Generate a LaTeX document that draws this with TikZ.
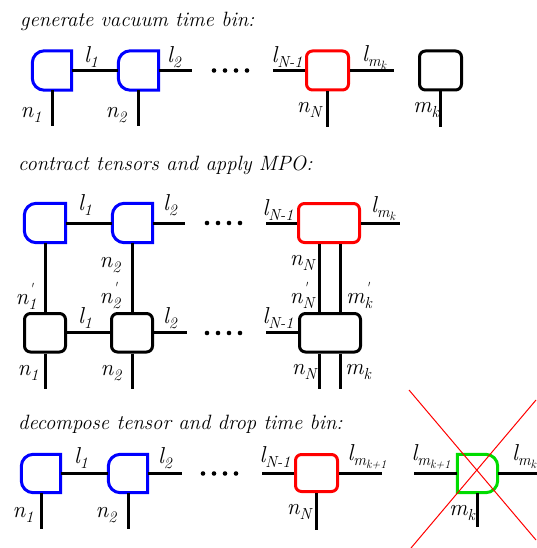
\documentclass[tikz,border=0pt]{standalone}
\usepackage{fontspec}
\usetikzlibrary{fit}
\definecolor{tblue}{RGB}{0,0,255}
\definecolor{tred}{RGB}{255,0,0}
\definecolor{tgreen}{RGB}{0,220,0}
\tikzset{
 wire/.style={line width=3pt},
 tbord/.style={line width=3pt},
 lab/.style={inner sep=0pt},
 ttl/.style={inner sep=0pt, anchor=base west, font=\fontsize{20.7}{24}\selectfont\itshape},
 box/.style={inner sep=0pt, draw, tbord, rounded corners=6pt},
 dnode/.style={inner sep=0pt},
 crossline/.style={tred, line width=1pt},
}
\newcommand\labfont{\fontsize{23}{25}\selectfont\itshape}
\newcommand\subsz{\fontsize{16}{16}\selectfont}
\newcommand\subsubsz{\fontsize{12}{12}\selectfont}
\newcommand\lsub[2]{{\labfont #1\raisebox{-5pt}{\subsz #2}}}
\newcommand\lsubsub[3]{{\labfont #1\raisebox{-5pt}{\subsz #2\raisebox{-3pt}{\subsubsz #3}}}}
\newcommand\lpr[2]{{\labfont #1\rlap{\raisebox{10pt}{\subsz\textquotesingle}}\raisebox{-5pt}{\subsz #2}}}
\newcommand\DLeft[2]{%
 \draw[tbord,#2] ([xshift=12pt]#1.north west) .. controls ([xshift=5.4pt]#1.north west) and ([yshift=-5.4pt]#1.north west) .. ([yshift=-12pt]#1.north west)
 -- ([yshift=12pt]#1.south west) .. controls ([yshift=5.4pt]#1.south west) and ([xshift=5.4pt]#1.south west) .. ([xshift=12pt]#1.south west)
 -- (#1.south east) -- (#1.north east) -- cycle;}
\newcommand\DRight[2]{%
 \draw[tbord,#2] ([xshift=-12pt]#1.north east) .. controls ([xshift=-5.4pt]#1.north east) and ([yshift=-5.4pt]#1.north east) .. ([yshift=-12pt]#1.north east)
 -- ([yshift=12pt]#1.south east) .. controls ([yshift=5.4pt]#1.south east) and ([xshift=-5.4pt]#1.south east) .. ([xshift=-12pt]#1.south east)
 -- (#1.south west) -- (#1.north west) -- cycle;}
\begin{document}
\begin{tikzpicture}[x=1pt,y=-1pt]
\useasboundingbox (0,0) rectangle (536,548);
% ---------- titles
\node[ttl] (t1) at (20,27) {generate vacuum time bin:};
\node[ttl] (t2) at (18,171) {contract tensors and apply MPO:};
\node[ttl] (t3) at (18,429) {decompose tensor and drop time bin:};
% ---------- row 1
\node[dnode,fit={(32.5,51)(71.5,90)}] (a1) {};
\node[dnode,fit={(118.5,51)(158.5,90)}] (a2) {};
\node[box,draw=tred,fit={(306.5,51)(348.5,90)}] (a3) {};
\node[box,fit={(419.5,51)(461.5,90)}] (a4) {};
\DLeft{a1}{tblue}
\DLeft{a2}{tblue}
\draw[wire] (a1.east) -- (a2.west);
\draw[wire] (a2.east) -- ++(33.5,0);
\draw[wire] (a3.west) -- ++(-32.5,0);
\draw[wire] (a3.east) -- ++(43.5,0);
\foreach \n in {a1,a2,a3,a4} \draw[wire] (\n.south) -- ++(0,36);
\foreach \x in {214,225,236,247} \fill (\x,70.5) circle (2.3pt);
\node[lab] (la1) at (91,57) {\lsub{l}{1}};
\node[lab] (la2) at (174,57) {\lsub{l}{2}};
\node[lab] (la3) at (287,57) {\lsub{l}{N-1}};
\node[lab] (la4) at (374,58) {\lsubsub{l}{m}{k}};
\node[lab] (na1) at (31,115) {\lsub{n}{1}};
\node[lab] (na2) at (116,115) {\lsub{n}{2}};
\node[lab] (na3) at (309,110) {\lsub{n}{N}};
\node[lab] (na4) at (426,110) {\lsub{m}{k}};
% ---------- row 2
\node[dnode,fit={(24.5,203.5)(65.5,242.5)}] (b1) {};
\node[dnode,fit={(112.5,203.5)(152.5,242.5)}] (b2) {};
\node[box,draw=tred,fit={(298.5,203.5)(359.5,242.5)}] (b3) {};
\node[box,fit={(24.5,313.5)(65.5,352)}] (c1) {};
\node[box,fit={(111.5,313.5)(152.5,352)}] (c2) {};
\node[box,fit={(299.5,313.5)(360.5,352)}] (c3) {};
\DLeft{b1}{tblue}
\DLeft{b2}{tblue}
\draw[wire] (b1.east) -- (b2.west);
\draw[wire] (b2.east) -- ++(32.5,0);
\draw[wire] (b3.west) -- ++(-31.5,0);
\draw[wire] (b3.east) -- ++(38.5,0);
\draw[wire] (c1.east) -- (c2.west);
\draw[wire] (c2.east) -- ++(32.5,0);
\draw[wire] (c3.west) -- ++(-32.5,0);
\draw[wire] (b1.south) -- (c1.north);
\draw[wire] (b2.south) -- (c2.north -| b2.south);
\draw[wire] (b3.south -| 319.5,0) -- (c3.north -| 319.5,0);
\draw[wire] (b3.south -| 340.5,0) -- (c3.north -| 340.5,0);
\draw[wire] (c1.south) -- ++(0,35);
\draw[wire] (c2.south) -- ++(0,35);
\draw[wire] (c3.south -| 319.5,0) -- ++(0,35);
\draw[wire] (c3.south -| 340.5,0) -- ++(0,35);
\foreach \x in {207,218,229,240} {\fill (\x,223) circle (2.3pt); \fill (\x,333) circle (2.3pt);}
\node[lab] (lb1) at (85,205) {\lsub{l}{1}};
\node[lab] (lb2) at (170,205) {\lsub{l}{2}};
\node[lab] (lb3) at (278,210) {\lsub{l}{N-1}};
\node[lab] (lb4) at (383,209) {\lsubsub{l}{m}{k}};
\node[lab] (nb2) at (110,265) {\lsub{n}{2}};
\node[lab] (pb1) at (26,296) {\lpr{n}{1}};
\node[lab] (pb2) at (110,296) {\lpr{n}{2}};
\node[lab] (nb3) at (302,263) {\lsub{n}{N}};
\node[lab] (pb3) at (302,295) {\lpr{n}{N}};
\node[lab] (pb4) at (359,295) {\lpr{m}{k}};
\node[lab] (lc1) at (85,318) {\lsub{l}{1}};
\node[lab] (lc2) at (170,318) {\lsub{l}{2}};
\node[lab] (lc3) at (278,318) {\lsub{l}{N-1}};
\node[lab] (nc1) at (28,373) {\lsub{n}{1}};
\node[lab] (nc2) at (111,373) {\lsub{n}{2}};
\node[lab] (nc3) at (304,372) {\lsub{n}{N}};
\node[lab] (nc4) at (358,372) {\lsub{m}{k}};
% ---------- row 3
\node[dnode,fit={(21.5,454.5)(60.5,492.5)}] (d1) {};
\node[dnode,fit={(108.5,454.5)(147.5,492.5)}] (d2) {};
\node[box,draw=tred,fit={(295.5,454.5)(337.5,491.5)}] (d3) {};
\node[dnode,fit={(457.5,454.5)(497.5,492.5)}] (d4) {};
\DLeft{d1}{tblue}
\DLeft{d2}{tblue}
\DRight{d4}{tgreen}
\draw[wire] (d1.east) -- (d2.west);
\draw[wire] (d2.east) -- ++(34.5,0);
\draw[wire] (d3.west) -- ++(-32.5,0);
\draw[wire] (d3.east) -- ++(42.5,0);
\draw[wire] (d4.west) -- ++(-43.5,0);
\draw[wire] (d4.east) -- ++(40,0);
\foreach \n in {d1,d2,d3} \draw[wire] (\n.south) -- ++(0,36.5);
\draw[wire] (d4.south) -- ++(0,34.5);
\foreach \x in {203,214,225,236} \fill (\x,473.5) circle (2.3pt);
\node[lab] (ld1) at (81,458) {\lsub{l}{1}};
\node[lab] (ld2) at (165,458) {\lsub{l}{2}};
\node[lab] (ld3) at (275,457) {\lsub{l}{N-1}};
\node[lab] (ld4) at (367,457) {\lsubsub{l}{m}{k+1}};
\node[lab] (ld5) at (431,457) {\lsubsub{l}{m}{k+1}};
\node[lab] (ld6) at (524,457) {\lsubsub{l}{m}{k}};
\node[lab] (nd1) at (23,515) {\lsub{n}{1}};
\node[lab] (nd2) at (106,515) {\lsub{n}{2}};
\node[lab] (nd3) at (299,512) {\lsub{n}{N}};
\node[lab] (nd4) at (462,513) {\lsub{m}{k}};
% ---------- cross
\draw[crossline] (409,390) -- (536,540);
\draw[crossline] (411,548) -- (536,400);
\end{tikzpicture}
\end{document}
